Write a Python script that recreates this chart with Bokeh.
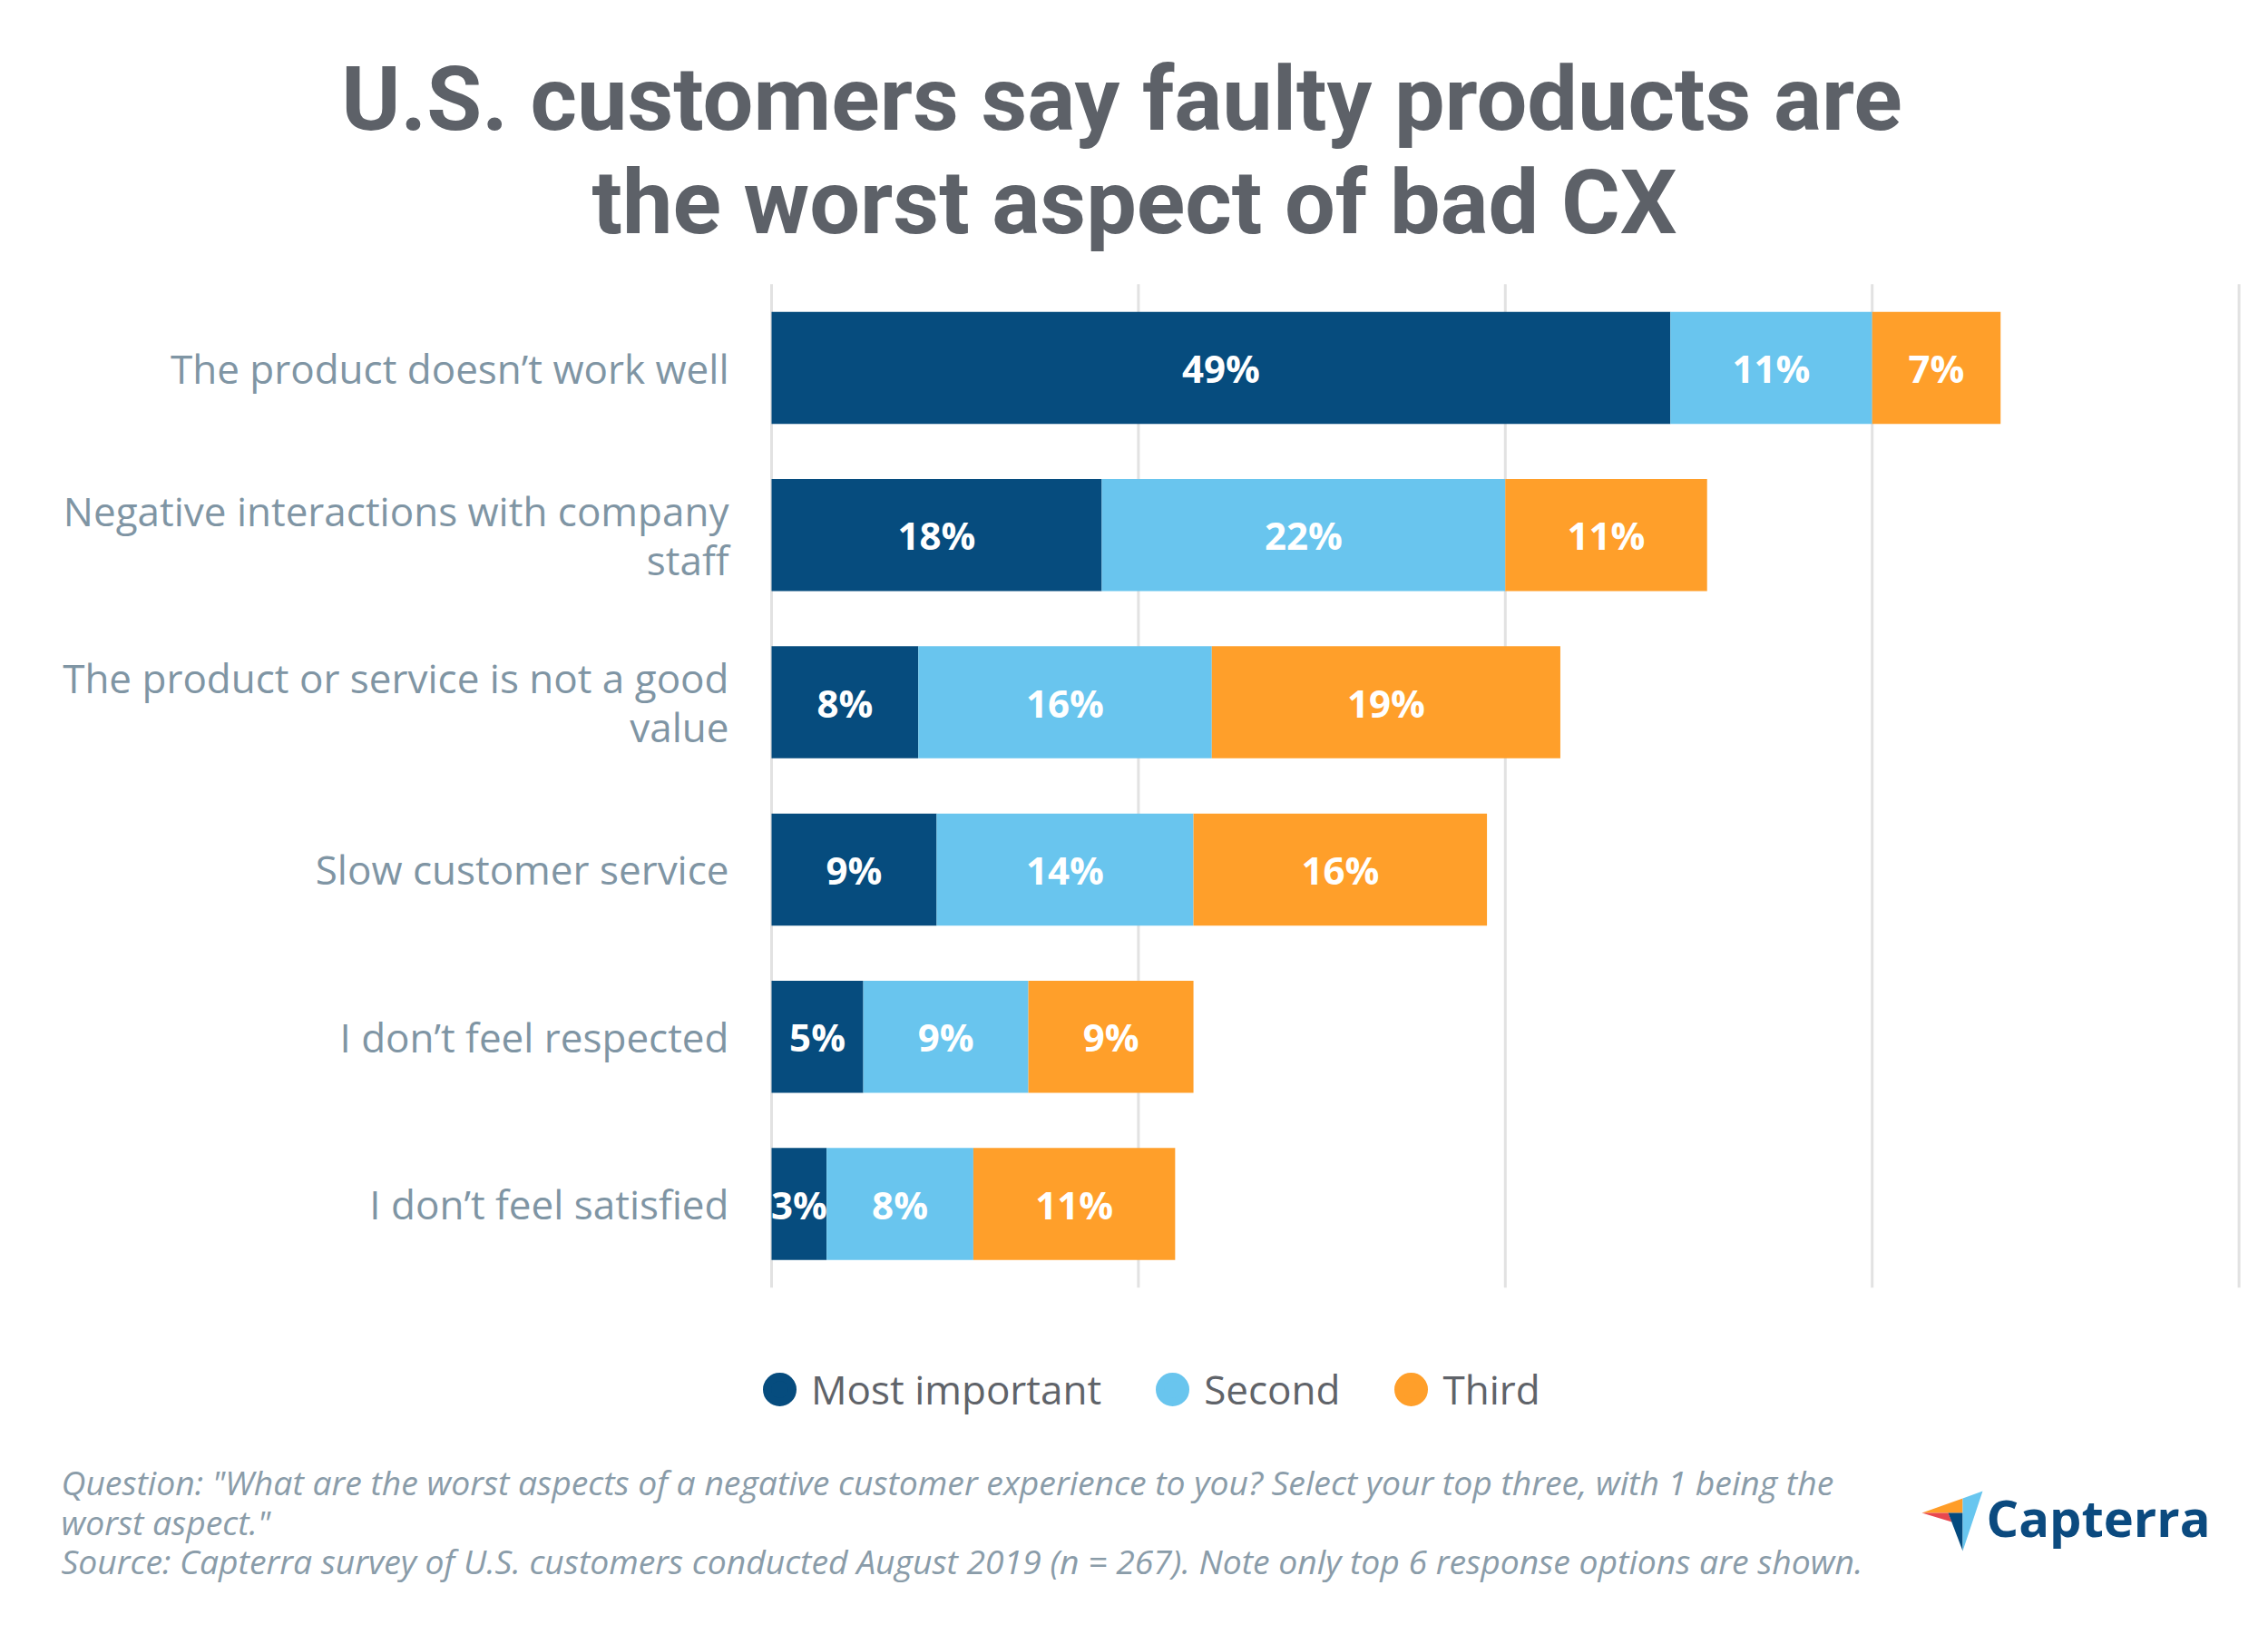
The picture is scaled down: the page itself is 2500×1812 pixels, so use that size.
from bokeh.plotting import figure
from bokeh.models import ColumnDataSource, Range1d, Legend, LegendItem
from bokeh.core.properties import value
from bokeh.embed import file_html
from bokeh.resources import INLINE

# ---------------- data ----------------
categories = [
    "The product doesn\u2019t work well",
    "Negative interactions with company\nstaff",
    "The product or service is not a good\nvalue",
    "Slow customer service",
    "I don\u2019t feel respected",
    "I don\u2019t feel satisfied",
]
series = ["Most important", "Second", "Third"]
most_important = [49, 18, 8, 9, 5, 3]
second = [11, 22, 16, 14, 9, 8]
third = [7, 11, 19, 16, 9, 11]
x_ticks = [0, 20, 40, 60, 80]

title_lines = ["U.S. customers say faulty products are", "the worst aspect of bad CX"]
footer_lines = [
    "Question: \"What are the worst aspects of a negative customer experience to you? Select your top three, with 1 being the",
    "worst aspect.\"",
    "Source: Capterra survey of U.S. customers conducted August 2019 (n = 267). Note only top 6 response options are shown.",
]
logo_text = "Capterra"

# ---------------- style / layout ----------------
colors = ["#064c7e", "#69c5ee", "#ff9f2a"]
TITLE_C = "#5d6168"
CAT_C = "#7f95a4"
LEG_C = "#5f6369"
FOOT_C = "#8a9ca9"
LOGO_C = "#0b4a7f"
GRID_C = "#e2e2e2"

W, H = 2496, 1808
# pixel layout of the chart area (page pixels, y downwards)
X0_PX, PX_PER_PCT = 850.0, 20.22      # where 0 % sits, pixels per percent
ROW0_PX, PX_PER_ROW = 405.0, 184.3    # centre of first row, row pitch

p = figure(width=W, height=H, output_backend="svg", toolbar_location=None,
           x_range=Range1d(0, W), y_range=Range1d(H, 0), min_border=0)
p.axis.visible = False
p.grid.visible = False
p.outline_line_color = None

p.extra_x_ranges = {"pct": Range1d(-X0_PX / PX_PER_PCT, (W - X0_PX) / PX_PER_PCT)}
p.extra_y_ranges = {"rows": Range1d((H - ROW0_PX) / PX_PER_ROW, -ROW0_PX / PX_PER_ROW)}

rows = list(range(len(categories)))
n = len(categories)

# grid lines (vertical, at the x ticks, spanning the category bands)
p.segment(x0=x_ticks, x1=x_ticks, y0=[-0.5] * len(x_ticks), y1=[n - 0.5] * len(x_ticks),
          line_color=GRID_C, line_width=3, x_range_name="pct", y_range_name="rows")

# stacked bars
src = ColumnDataSource(dict(row=rows, **{series[0]: most_important,
                                         series[1]: second,
                                         series[2]: third}))
p.hbar_stack(series, y="row", height=0.67, color=colors, line_color=None, source=src,
             x_range_name="pct", y_range_name="rows")

# bar value labels
lx, ly, lt = [], [], []
for i in rows:
    start = 0
    for vals in (most_important, second, third):
        v = vals[i]
        lx.append(start + v / 2)
        ly.append(i)
        lt.append(f"{v}%")
        start += v
p.text(x="x", y="y", text="t", source=ColumnDataSource(dict(x=lx, y=ly, t=lt)),
       text_font=value("Open Sans"), text_font_style="bold", text_font_size="42px",
       text_color="white", text_align="center", text_baseline="middle",
       x_range_name="pct", y_range_name="rows")

# category labels
p.text(x=[0] * n, y=rows, text=categories, x_offset=-47,
       text_font=value("Open Sans"), text_font_size="44px", text_line_height=0.9,
       text_color=CAT_C, text_align="right", text_baseline="middle",
       x_range_name="pct", y_range_name="rows")

# title
p.text(x=[1236, 1250], y=[108, 222], text=title_lines,
       text_font=value("Roboto"), text_font_style="bold", text_font_size="99px",
       text_color=TITLE_C, text_align="center", text_baseline="middle")

# legend (circle markers: size 28 + 9px outline of the same colour)
leg_items = []
for name, col in zip(series, colors):
    r = p.scatter(x=[float("nan")], y=[float("nan")], marker="circle", size=10,
                  fill_color=col, line_color=col, line_width=9)
    leg_items.append(LegendItem(label=name, renderers=[r]))
legend = Legend(items=leg_items, orientation="horizontal",
                location=(824, H - (1531 + 35)),
                glyph_width=70, glyph_height=70, label_standoff=0, spacing=43,
                padding=0, margin=0, border_line_color=None, background_fill_alpha=0,
                label_text_font="Open Sans", label_text_font_size="44px",
                label_text_color=LEG_C)
p.add_layout(legend, "center")

# footer notes
p.text(x=[67, 67, 67], y=[1633, 1677, 1720], text=footer_lines,
       text_font=value("Open Sans"), text_font_style="italic", text_font_size="37.3px",
       text_color=FOOT_C, text_align="left", text_baseline="middle")

# logo
L_, TR, B_ = (2118, 1667), (2185, 1643), (2163, 1709)
J1, J2, J3, J4 = (2163, 1651), (2147, 1667), (2151, 1677), (2163, 1667)
shapes = [([L_, J1, J4], "#ff9d28"), ([L_, J2, J3], "#e8484f"),
          ([J2, J4, B_], "#044a7e"), ([J1, TR, B_], "#68c6ef")]
p.patches(xs=[[a for a, b in pts] for pts, c in shapes],
          ys=[[b for a, b in pts] for pts, c in shapes],
          fill_color=[c for pts, c in shapes], line_color=None)
p.text(x=[2189], y=[1671], text=[logo_text],
       text_font=value("Open Sans"), text_font_style="bold", text_font_size="56px",
       text_color=LOGO_C, text_align="left", text_baseline="middle")

open("out.html", "w").write(file_html(p, INLINE))
